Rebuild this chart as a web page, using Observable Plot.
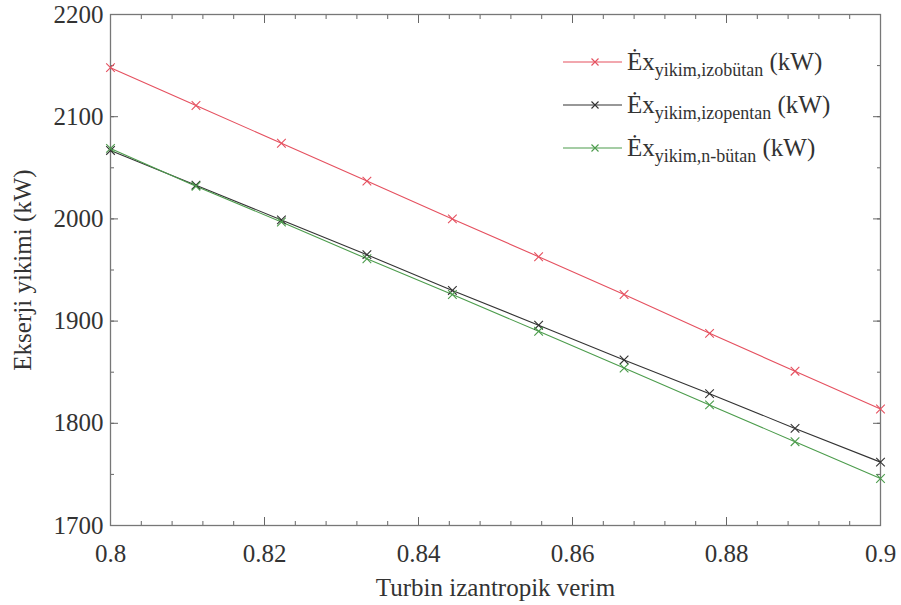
<!DOCTYPE html>
<html>
<head>
<meta charset="utf-8">
<script src="https://cdn.jsdelivr.net/npm/d3@7"></script>
<script src="https://cdn.jsdelivr.net/npm/@observablehq/plot@0.6"></script>
<style>
  body { margin: 0; background: #fff; }
  #chart { width: 901px; height: 605px; }
</style>
</head>
<body>
<div id="chart"></div>
<script>
// Turbine isentropic efficiency (x)
const efficiency = [0.8, 0.8111, 0.8222, 0.8333, 0.8444, 0.8556, 0.8667, 0.8778, 0.8889, 0.9];
// Exergy destruction (kW) per working fluid
const isobutane = [2148, 2111, 2074, 2037, 2000, 1963, 1926, 1888, 1851, 1814];
const isopentane = [2067, 2033, 1999, 1965, 1930, 1896, 1862, 1829, 1795, 1762];
const nbutane = [2069, 2032, 1997, 1961, 1926, 1890, 1854, 1818, 1782, 1746];
const seriesNames = ["izobütan", "izopentan", "n-bütan"];
const seriesColors = ["#e5505f", "#333333", "#4c9c4c"];
const xMajorTicks = [0.8, 0.82, 0.84, 0.86, 0.88, 0.9];
const yMajorTicks = [1700, 1800, 1900, 2000, 2100, 2200];
const xMinorTicks = d3.range(0, 26).map(i => +(0.8 + i * 0.004).toFixed(3));
const yMinorTicks = d3.range(1700, 2201, 50);
const xTitle = "Turbin izantropik verim";
const yTitle = "Ekserji yikimi (kW)";

const seriesValues = [isobutane, isopentane, nbutane];
const data = seriesNames.flatMap((name, s) =>
  efficiency.map((x, i) => ({x, y: seriesValues[s][i], name})));

const FONT = "Liberation Serif";
const noText = () => "";

const plot = Plot.plot({
  width: 901,
  height: 605,
  marginLeft: 110,
  marginRight: 21,
  marginTop: 14,
  marginBottom: 80,
  style: {fontFamily: FONT, fontSize: "25px", color: "#333", background: "white"},
  x: {domain: [0.8, 0.9]},
  y: {domain: [1700, 2200]},
  color: {domain: seriesNames, range: seriesColors},
  marks: [
    Plot.axisX(xMinorTicks, {anchor: "bottom", tickSize: -4, tickFormat: noText, label: null, stroke: "#666"}),
    Plot.axisX(xMinorTicks, {anchor: "top", tickSize: -4, tickFormat: noText, label: null, stroke: "#666"}),
    Plot.axisY(yMinorTicks, {anchor: "left", tickSize: -4, tickFormat: noText, label: null, stroke: "#666"}),
    Plot.axisY(yMinorTicks, {anchor: "right", tickSize: -4, tickFormat: noText, label: null, stroke: "#666"}),
    Plot.axisX(xMajorTicks, {anchor: "top", tickSize: -8, tickFormat: noText, label: null, stroke: "#666"}),
    Plot.axisY(yMajorTicks, {anchor: "right", tickSize: -8, tickFormat: noText, label: null, stroke: "#666"}),
    Plot.axisX(xMajorTicks, {
      anchor: "bottom", tickSize: -8, tickPadding: 27, stroke: "#666",
      tickFormat: d => String(+d.toFixed(2)), fontSize: 25, fontFamily: FONT,
      label: xTitle, labelAnchor: "center", labelOffset: 70, labelArrow: "none"
    }),
    Plot.axisY(yMajorTicks, {
      anchor: "left", tickSize: -8, tickPadding: 15, stroke: "#666",
      tickFormat: d => String(d), fontSize: 25, fontFamily: FONT,
      label: yTitle, labelAnchor: "center", labelOffset: 97, labelArrow: "none"
    }),
    Plot.frame({stroke: "#777", strokeWidth: 1.3}),
    Plot.line(data, {x: "x", y: "y", z: "name", stroke: "name", strokeWidth: 1.1}),
    Plot.dot(data, {x: "x", y: "y", stroke: "name", symbol: "times", r: 4, strokeWidth: 1.1})
  ]
});

// Move Plot's rendered marks into a plain SVG root carrying the serif face
const root = d3.select("#chart").append("svg")
  .attr("width", 901).attr("height", 605).attr("viewBox", "0 0 901 605")
  .attr("font-family", FONT).attr("font-size", 25).attr("fill", "#333")
  .attr("text-anchor", "middle")
  .style("display", "block").style("background", "white");
Array.from(plot.childNodes).forEach(n => {
  if (n.nodeName.toLowerCase() !== "style") root.node().appendChild(n);
});
root.selectAll("text, tspan").attr("font-family", FONT);

// Legend (inside the plot, top right)
const lg = root.append("g").attr("fill", "#333").attr("text-anchor", "start");
const legendX = 563, legendY0 = 62, legendDy = 43;
seriesNames.forEach((name, i) => {
  const y = legendY0 + i * legendDy;
  const g = lg.append("g");
  g.append("line").attr("x1", legendX).attr("x2", legendX + 59).attr("y1", y).attr("y2", y)
    .attr("stroke", seriesColors[i]).attr("stroke-width", 1.1);
  const cx = legendX + 32, r = 3.5;
  g.append("path").attr("d", `M${cx - r},${y - r}L${cx + r},${y + r}M${cx - r},${y + r}L${cx + r},${y - r}`)
    .attr("stroke", seriesColors[i]).attr("stroke-width", 1.1).attr("fill", "none");
  const t = g.append("text").attr("x", legendX + 64).attr("y", y + 8)
    .attr("font-family", FONT).attr("font-size", 25);
  t.append("tspan").text("Ėx");
  t.append("tspan").attr("font-size", 18).attr("dy", 6).text("yikim," + name);
  t.append("tspan").attr("dy", -6).text(" (kW)");
});
</script>
</body>
</html>
